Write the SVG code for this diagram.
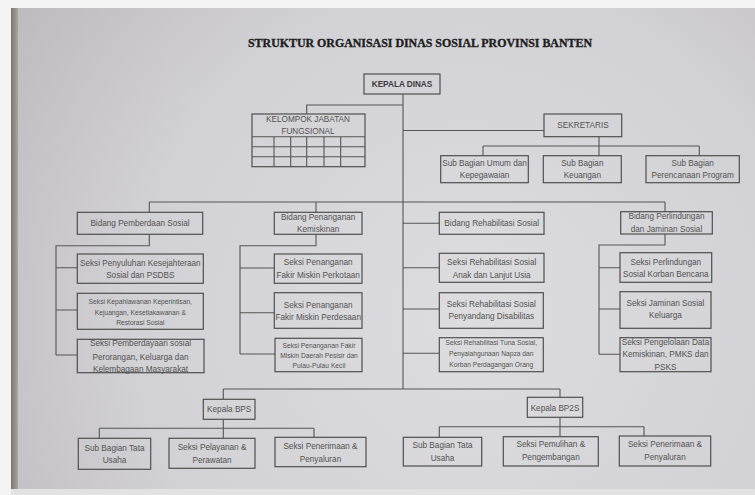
<svg xmlns="http://www.w3.org/2000/svg" width="755" height="495" viewBox="0 0 755 495">
<defs>
<radialGradient id="bg" cx="470" cy="320" r="560" gradientUnits="userSpaceOnUse">
<stop offset="0" stop-color="#dddde0"/>
<stop offset="0.6" stop-color="#d2d1d5"/>
<stop offset="1" stop-color="#bdbabe"/>
</radialGradient>
<linearGradient id="strip" x1="0" y1="0" x2="1" y2="0">
<stop offset="0" stop-color="#77776a"/>
<stop offset="1" stop-color="#a7a6a2"/>
</linearGradient>
<style>
.box{fill:none;stroke:#4f4f4f;stroke-width:1.2}
.ln{fill:none;stroke:#555;stroke-width:1.1}
.t{font-family:"Liberation Sans",Arial,sans-serif;font-size:8.2px;fill:#525252;text-anchor:middle}
.s{font-size:6.7px}
.b{font-weight:bold;fill:#3a3a3a}
</style>
</defs>
<rect x="0" y="0" width="755" height="495" fill="#f3f3f3"/>
<rect x="11" y="8" width="744" height="482" fill="url(#bg)"/>
<rect x="11" y="8" width="7" height="482" fill="url(#strip)"/>
<rect x="11" y="489" width="744" height="6" fill="#e2e2e2"/>

<text x="248" y="47.3" textLength="344" lengthAdjust="spacingAndGlyphs" style="font-family:'Liberation Serif','Times New Roman',serif;font-weight:bold;font-size:11.5px;fill:#1e1e1e;stroke:#1e1e1e;stroke-width:0.35">STRUKTUR ORGANISASI DINAS SOSIAL PROVINSI BANTEN</text>

<g id="connectors">
<path class="ln" d="M403,94V389"/>
<path class="ln" d="M403,105H306.7V114"/>
<path class="ln" d="M403,130.5H544"/>
<path class="ln" d="M599,136.7V155.7M483,146H699.3M483,146V155.7M699.3,146V155.7"/>
<path class="ln" d="M149.3,202H665M149.3,202V212.3M316,202V212.3M665,202V211.7M403,223.3H439.3"/>
<path class="ln" d="M149.3,234.3V245.7H56V355M56,267.7H77.3M56,310H77.3M56,355H77.3"/>
<path class="ln" d="M316,234.3V245.7H240V354M240,268H274.3M240,312.7H274.3M240,354H275"/>
<path class="ln" d="M403,267.7H439.3M403,309H439.3M403,353.3H439.3"/>
<path class="ln" d="M665,234V245H599V354.3M599,267.7H620M599,309H620M599,354.3H620"/>
<path class="ln" d="M223.3,389H560M223.3,389V399.3M560,389V397.3"/>
<path class="ln" d="M223.3,419.3V438.3M99.3,428.3H314M99.3,428.3V438.3M314,428.3V437.3"/>
<path class="ln" d="M560,417.3V436.7M439.3,426.7H644M439.3,426.7V437.3M644,426.7V436"/>
</g>

<g id="kepala-dinas">
<rect class="box" x="364" y="74" width="76" height="20"/>
<text class="t b" x="402" y="87">KEPALA DINAS</text>
</g>

<g id="kelompok-jabatan-fungsional">
<rect class="box" x="252" y="114" width="113" height="52.7"/>
<path class="ln" d="M252,136.7H365M252,146.7H365M252,156.7H365M274,136.7V166.7M290.7,136.7V166.7M306.7,136.7V166.7M324,136.7V166.7M340.7,136.7V166.7"/>
<text class="t" x="308" y="122.2">KELOMPOK JABATAN</text>
<text class="t" x="308" y="133.5">FUNGSIONAL</text>
</g>

<g id="sekretaris">
<rect class="box" x="544" y="114" width="77.7" height="22.7"/>
<text class="t" x="583" y="128">SEKRETARIS</text>
</g>

<g id="sub-bagian-umum">
<rect class="box" x="440.7" y="155.7" width="87.6" height="27"/>
<text class="t" x="484.5" y="165.5">Sub Bagian Umum dan</text>
<text class="t" x="484.5" y="178">Kepegawaian</text>
</g>
<g id="sub-bagian-keuangan">
<rect class="box" x="543.3" y="155.7" width="78" height="27"/>
<text class="t" x="582.3" y="165.5">Sub Bagian</text>
<text class="t" x="582.3" y="178">Keuangan</text>
</g>
<g id="sub-bagian-perencanaan">
<rect class="box" x="646" y="155.7" width="93.3" height="27"/>
<text class="t" x="692.7" y="165.5">Sub Bagian</text>
<text class="t" x="692.7" y="178">Perencanaan Program</text>
</g>

<g id="bidang-pemberdayaan">
<rect class="box" x="77.3" y="212.3" width="125.4" height="22"/>
<text class="t" x="140" y="226.2">Bidang Pemberdaan Sosial</text>
</g>
<g id="seksi-penyuluhan">
<rect class="box" x="77.3" y="254" width="126" height="29.3"/>
<text class="t" x="140.3" y="266.3">Seksi Penyuluhan Kesejahteraan</text>
<text class="t" x="140.3" y="278">Sosial dan PSDBS</text>
</g>
<g id="seksi-kepahlawanan">
<rect class="box" x="77.3" y="293.3" width="126" height="36"/>
<text class="t s" x="140.3" y="304">Seksi Kepahlawanan Keperintisan,</text>
<text class="t s" x="140.3" y="315">Kejuangan, Kesetiakawanan &amp;</text>
<text class="t s" x="140.3" y="324.5">Restorasi Sosial</text>
</g>
<g id="seksi-pemberdayaan-sosial">
<rect class="box" x="77.3" y="339.3" width="126.7" height="33.4"/>
<text class="t" x="140.5" y="346.3">Seksi Pemberdayaan sosial</text>
<text class="t" x="140.5" y="359.7">Perorangan, Keluarga dan</text>
<text class="t" x="140.5" y="372.3">Kelembagaan Masyarakat</text>
</g>

<g id="bidang-penanganan">
<rect class="box" x="274.3" y="212.3" width="87.7" height="22"/>
<text class="t" x="318.2" y="219.6">Bidang Penanganan</text>
<text class="t" x="318.2" y="232">Kemiskinan</text>
</g>
<g id="seksi-fakir-perkotaan">
<rect class="box" x="274.3" y="254" width="87.7" height="29.3"/>
<text class="t" x="318.2" y="265">Seksi Penanganan</text>
<text class="t" x="318.2" y="277.8">Fakir Miskin Perkotaan</text>
</g>
<g id="seksi-fakir-perdesaan">
<rect class="box" x="274.3" y="292.7" width="87.7" height="35.6"/>
<text class="t" x="318.2" y="307.8">Seksi Penanganan</text>
<text class="t" x="318.2" y="319.5">Fakir Miskin Perdesaan</text>
</g>
<g id="seksi-fakir-pesisir">
<rect class="box" x="275" y="338.3" width="87" height="33.4"/>
<text class="t s" x="319" y="347.5">Seksi Penanganan Fakir</text>
<text class="t s" x="319" y="358">Miskin Daerah Pesisir dan</text>
<text class="t s" x="319" y="367.5">Pulau-Pulau Kecil</text>
</g>

<g id="bidang-rehabilitasi">
<rect class="box" x="439.3" y="212.3" width="104.7" height="22"/>
<text class="t" x="491.7" y="226.2">Bidang Rehabilitasi Sosial</text>
</g>
<g id="seksi-rehab-anak">
<rect class="box" x="439.3" y="253.3" width="104.7" height="29"/>
<text class="t" x="491.7" y="264.5">Seksi Rehabilitasi Sosial</text>
<text class="t" x="491.7" y="277.8">Anak dan Lanjut Usia</text>
</g>
<g id="seksi-rehab-disabilitas">
<rect class="box" x="439.3" y="292.7" width="104" height="35.6"/>
<text class="t" x="491.3" y="306.8">Seksi Rehabilitasi Sosial</text>
<text class="t" x="491.3" y="318.8">Penyandang Disabilitas</text>
</g>
<g id="seksi-rehab-tuna">
<rect class="box" x="439.3" y="337.7" width="104" height="34"/>
<text class="t s" x="491.3" y="345">Seksi Rehabilitasi Tuna Sosial,</text>
<text class="t s" x="491.3" y="356">Penyalahgunaan Napza dan</text>
<text class="t s" x="491.3" y="366.5">Korban Perdagangan Orang</text>
</g>

<g id="bidang-perlindungan">
<rect class="box" x="620.7" y="211.7" width="91.6" height="22.3"/>
<text class="t" x="666.5" y="218.6">Bidang Perlindungan</text>
<text class="t" x="666.5" y="231.8">dan Jaminan Sosial</text>
</g>
<g id="seksi-perlindungan-bencana">
<rect class="box" x="620" y="252.7" width="91.7" height="29.6"/>
<text class="t" x="665.8" y="264.5">Seksi Perlindungan</text>
<text class="t" x="665.8" y="277">Sosial Korban Bencana</text>
</g>
<g id="seksi-jaminan-keluarga">
<rect class="box" x="620" y="291.7" width="91" height="36.6"/>
<text class="t" x="665.5" y="306">Seksi Jaminan Sosial</text>
<text class="t" x="665.5" y="317.8">Keluarga</text>
</g>
<g id="seksi-pengelolaan-data">
<rect class="box" x="620" y="337.7" width="91" height="34"/>
<text class="t" x="665.5" y="344.5">Seksi Pengelolaan Data</text>
<text class="t" x="665.5" y="357">Kemiskinan, PMKS dan</text>
<text class="t" x="665.5" y="370">PSKS</text>
</g>

<g id="kepala-bps">
<rect class="box" x="203.3" y="399.3" width="51.7" height="20"/>
<text class="t" x="229.2" y="412">Kepala BPS</text>
</g>
<g id="bps-tata-usaha">
<rect class="box" x="78.3" y="438.3" width="72.4" height="31"/>
<text class="t" x="114.5" y="451">Sub Bagian Tata</text>
<text class="t" x="114.5" y="463">Usaha</text>
</g>
<g id="bps-pelayanan">
<rect class="box" x="169" y="438.3" width="86" height="30"/>
<text class="t" x="212" y="449.5">Seksi Pelayanan &amp;</text>
<text class="t" x="212" y="462.8">Perawatan</text>
</g>
<g id="bps-penerimaan">
<rect class="box" x="275" y="437.3" width="91" height="29.4"/>
<text class="t" x="320.5" y="448.5">Seksi Penerimaan &amp;</text>
<text class="t" x="320.5" y="461.8">Penyaluran</text>
</g>

<g id="kepala-bp2s">
<rect class="box" x="527.3" y="397.3" width="55.4" height="20"/>
<text class="t" x="555" y="411">Kepala BP2S</text>
</g>
<g id="bp2s-tata-usaha">
<rect class="box" x="403.3" y="437.3" width="78.4" height="28.7"/>
<text class="t" x="442.5" y="448">Sub Bagian Tata</text>
<text class="t" x="442.5" y="460.5">Usaha</text>
</g>
<g id="bp2s-pemulihan">
<rect class="box" x="503.3" y="436.7" width="95" height="29.3"/>
<text class="t" x="550.8" y="447">Seksi Pemulihan &amp;</text>
<text class="t" x="550.8" y="460">Pengembangan</text>
</g>
<g id="bp2s-penerimaan">
<rect class="box" x="619.3" y="436" width="91.4" height="30"/>
<text class="t" x="665" y="447">Seksi Penerimaan &amp;</text>
<text class="t" x="665" y="460">Penyaluran</text>
</g>
</svg>
